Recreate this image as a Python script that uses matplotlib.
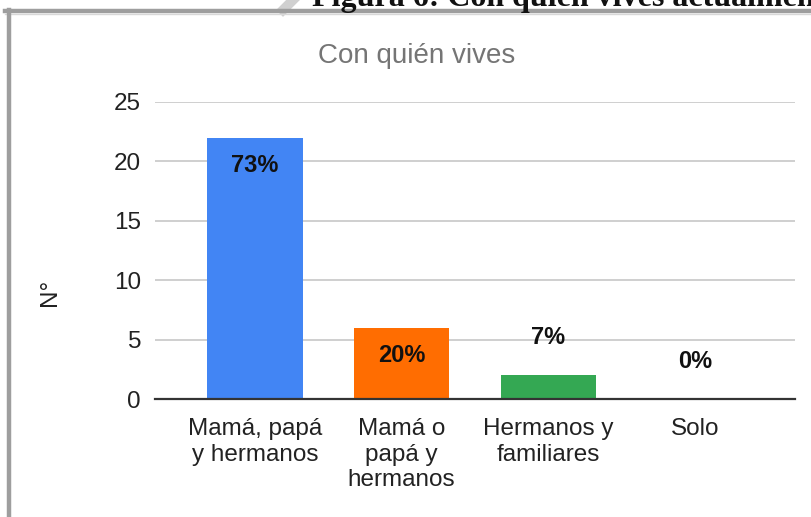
import matplotlib.pyplot as plt
from matplotlib.lines import Line2D

plt.rcParams['font.family'] = ['Liberation Sans', 'DejaVu Sans']

# datos
categorias = ['Mamá, papá\ny hermanos', 'Mamá o\npapá y\nhermanos', 'Hermanos y\nfamiliares', 'Solo']
valores = [22, 6, 2, 0]
porcentajes = ['73%', '20%', '7%', '0%']
colores = ['#4285F4', '#FF6D01', '#34A853', '#9E9E9E']
yticks = [0, 5, 10, 15, 20, 25]

W, H = 811, 517
fig = plt.figure(figsize=(W / 100, H / 100), dpi=100)
ax = fig.add_axes([155 / W, 1 - 399 / H, 640 / W, 297 / H])

x = range(len(categorias))
ax.bar(x, valores, width=0.65, color=colores, zorder=3)

# etiquetas de porcentaje
for i, (v, p) in enumerate(zip(valores, porcentajes)):
    if v >= 5:
        off = -20
    else:
        off = 27
    ax.annotate(p, (i, v), xytext=(0, off), textcoords='offset points',
                ha='center', va='center', fontsize=17, fontweight='bold',
                color='#111111', zorder=4)

ax.set_xlim(-0.68, 3.68)
ax.set_ylim(0, 25)
ax.set_yticks(yticks)
ax.set_xticks(list(x))
ax.set_xticklabels(categorias, fontsize=17.5, color='#222222', linespacing=1.2)
ax.tick_params(axis='both', length=0, labelsize=17.5, labelcolor='#222222')
ax.tick_params(axis='x', pad=14)
ax.tick_params(axis='y', pad=10)
ax.grid(axis='y', color='#cccccc', linewidth=1.3, zorder=0)
for s in ['top', 'right', 'left']:
    ax.spines[s].set_visible(False)
ax.spines['bottom'].set_color('#333333')
ax.spines['bottom'].set_linewidth(1.6)
ax.spines['bottom'].set_zorder(5)

ax.set_ylabel('N°', fontsize=17.5, color='#222222')
ax.yaxis.set_label_coords(-94 / 640, 0.36)

fig.text(417 / W, 1 - 56 / H, 'Con quién vives', ha='center', va='center',
         fontsize=20, color='#757575')

# texto cortado de la página y marco
fig.text(312 / W, 1 - 6 / H, 'Figura 6: Con quién vives actualmente', ha='left',
         va='baseline', fontsize=23, fontweight='bold', family='Liberation Serif',
         color='#111111')
fig.add_artist(Line2D([293 / W, 283 / W], [1, 1 - 10 / H], color='#d0d0d0',
                      linewidth=7, transform=fig.transFigure))
fig.add_artist(Line2D([5 / W, 1], [1 - 11 / H, 1 - 11 / H], color='#9e9e9e',
                      linewidth=3.2, transform=fig.transFigure))
fig.add_artist(Line2D([5 / W, 1], [1 - 14 / H, 1 - 14 / H], color='#d8d8d8',
                      linewidth=1, transform=fig.transFigure))
fig.add_artist(Line2D([9 / W, 9 / W], [0, 1 - 10 / H], color='#9e9e9e',
                      linewidth=3.2, transform=fig.transFigure))

fig.savefig('out.png', dpi=100)
